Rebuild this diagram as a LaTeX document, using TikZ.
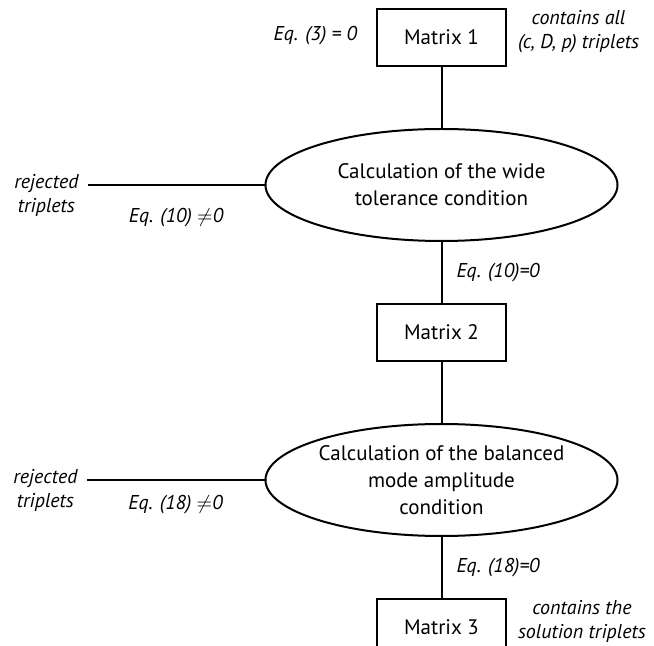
\documentclass[tikz,border=0pt]{standalone}
\usepackage{fontspec}
\setmainfont{PT Sans}
\usetikzlibrary{shapes,positioning}
\tikzset{
  every picture/.style = {
    line width = 1pt,
    node distance = 30.5pt and 3em,
  }
  ,
  matrixbox/.style = {
    rectangle,
    draw,
    font = \fontsize{10.5}{13}\selectfont,
    minimum width = 64.5pt,
    minimum height = 28.5pt
  }
  , % calculation steps
  calcstep/.style = {
    ellipse,
    draw,
    align = center,
    font = \fontsize{10.5}{13.5}\selectfont,
    minimum width = 176pt,
    minimum height = 56pt,
    inner sep = 0pt
  }
  , % labels of edges
  label-edge/.style = {
    font = \fontsize{10}{12}\selectfont\itshape,
    align = center,
    inner sep = 1pt
  }
}

\begin{document}
\begin{tikzpicture}
\useasboundingbox (0,0) rectangle (327pt,-323pt);
\node [matrixbox] (m1) at (220.75pt,-18.75pt) {Matrix 1};
\node [calcstep, below = of m1] (c1) {Calculation of the wide\\tolerance condition};
\node [matrixbox, below = of c1] (m2) {Matrix 2};
\node [calcstep, below = of m2] (c2) {Calculation of the balanced\\mode amplitude\\condition};
\node [matrixbox, below = of c2] (m3) {Matrix 3};

\coordinate [left = 88.5pt of c1] (r1);
\coordinate [left = 89pt of c2] (r2);

\node [label-edge, left = 8pt of m1, yshift = 1pt] (eq3) {Eq. (3) = 0};
\node [label-edge, right = 4pt of m1, yshift = 3pt] (all) {contains all\\(c, D, p) triplets};
\node [label-edge, right = 4pt of m3, yshift = 3pt] (sol) {contains the\\solution triplets};
\node [label-edge, below left = -7pt and 3pt of r1] (rej1) {rejected\\triplets};
\node [label-edge, below left = -7pt and 3pt of r2] (rej2) {rejected\\triplets};

\path (m1) edge (c1);
\path (c1) edge node [label-edge, right = 6pt] {Eq. (10)=0} (m2);
\path (m2) edge (c2);
\path (c2) edge node [label-edge, right = 6pt] {Eq. (18)=0} (m3);
\path (c1) edge node [label-edge, below = 10pt] {Eq. (10) $\neq$0} (r1);
\path (c2) edge node [label-edge, below = 6pt] {Eq. (18) $\neq$0} (r2);
\end{tikzpicture}
\end{document}
